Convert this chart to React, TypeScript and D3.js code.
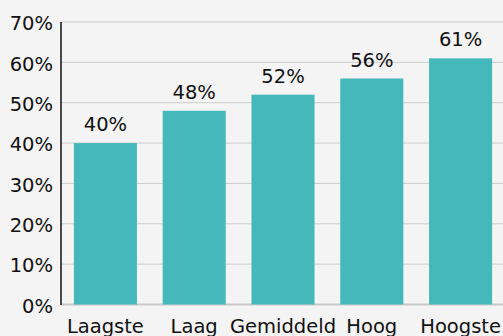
import React from "react";
import * as d3 from "d3";

const categories = ["Laagste", "Laag", "Gemiddeld", "Hoog", "Hoogste"];
const values = [40, 48, 52, 56, 61];
const valueLabels = ["40%", "48%", "52%", "56%", "61%"];
const yTicks = [0, 10, 20, 30, 40, 50, 60, 70];

const W = 503;
const H = 336;
const FONT = "'DejaVu Sans', sans-serif";

export default function App() {
  const x = d3.scaleBand<string>().domain(categories).range([61, 505]).paddingInner(0.29).paddingOuter(0.145);
  const y = d3.scaleLinear().domain([0, 70]).range([304.5, 22]);
  return (
    <svg width={W} height={H} style={{ position: "fixed", left: 0, top: 0, background: "#f4f4f4" }}>
      <rect x={0} y={0} width={W} height={H} fill="#f4f4f4" />
      {yTicks.map((t) => (
        <g key={t}>
          <line x1={61} x2={W} y1={y(t)} y2={y(t)} stroke={t === 0 ? "#c8c8c8" : "#cccccc"} strokeWidth={t === 0 ? 2 : 1} />
          <text x={53} y={y(t)} dy="0.42em" textAnchor="end" fontFamily={FONT} fontSize={19.5} fill="#111">
            {t}%
          </text>
        </g>
      ))}
      {categories.map((c, i) => (
        <g key={c}>
          <rect x={x(c)} y={y(values[i])} width={x.bandwidth()} height={y(0) - y(values[i])} fill="#45b8bb" />
          <text x={(x(c) as number) + x.bandwidth() / 2} y={y(values[i]) - 12} textAnchor="middle" fontFamily={FONT} fontSize={19.5} fill="#111">
            {valueLabels[i]}
          </text>
          <text x={(x(c) as number) + x.bandwidth() / 2} y={332.5} textAnchor="middle" fontFamily={FONT} fontSize={19.5} fill="#111">
            {c}
          </text>
        </g>
      ))}
      <line x1={61} x2={61} y1={22} y2={305} stroke="#111" strokeWidth={1.5} />
    </svg>
  );
}
